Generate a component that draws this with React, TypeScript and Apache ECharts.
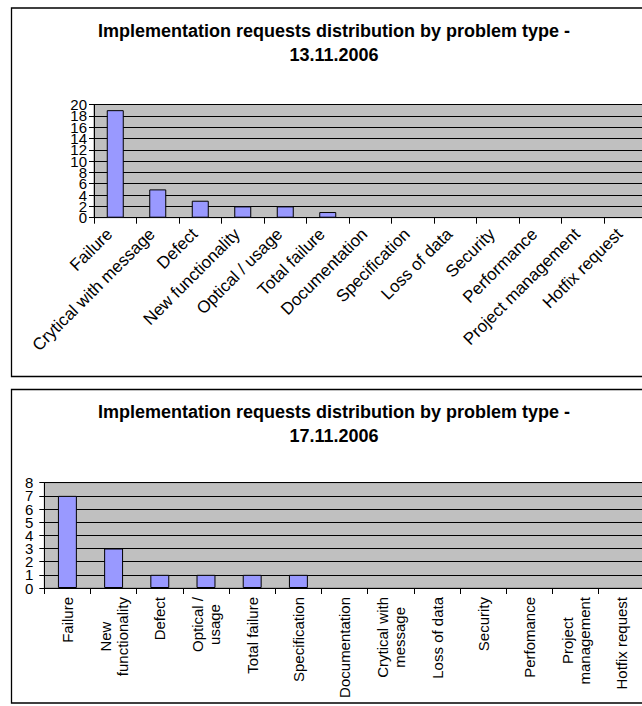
import React, { useEffect, useRef } from "react";
import * as echarts from "echarts";

const title1 = "Implementation requests distribution by problem type -\n13.11.2006";
const title2 = "Implementation requests distribution by problem type -\n17.11.2006";

const categories1 = [
  "Failure",
  "Crytical with message",
  "Defect",
  "New functionality",
  "Optical / usage",
  "Total failure",
  "Documentation",
  "Specification",
  "Loss of data",
  "Security",
  "Performance",
  "Project management",
  "Hotfix request",
];
const values1 = [19, 5, 3, 2, 2, 1, 0, 0, 0, 0, 0, 0, 0];
const yMax1 = 20;
const yStep1 = 2;

const categories2 = [
  "Failure",
  "New\nfunctionality",
  "Defect",
  "Optical /\nusage",
  "Total failure",
  "Specification",
  "Documentation",
  "Crytical with\nmessage",
  "Loss of data",
  "Security",
  "Perfomance",
  "Project\nmanagement",
  "Hotfix request",
];
const values2 = [7, 3, 1, 1, 1, 1, 0, 0, 0, 0, 0, 0, 0];
const yMax2 = 8;
const yStep2 = 1;

const FONT = "'Liberation Sans', Arial, sans-serif";

function yPair(gridIndex: number, max: number, step: number, fontSize: number, margin: number) {
  const base = {
    type: "value" as const,
    gridIndex,
    position: "left" as const,
    min: 0,
    max,
    interval: step,
  };
  const lbl = (parity: number) => ({
    margin,
    fontSize,
    fontFamily: FONT,
    color: "#000",
    showMinLabel: true,
    showMaxLabel: true,
    hideOverlap: false,
    formatter: (v: number) => (Math.round(v / step) % 2 === parity ? String(v) : ""),
  });
  return [
    {
      ...base,
      axisLine: { show: true, lineStyle: { color: "#000", width: 1 } },
      axisTick: { show: true, length: 5, lineStyle: { color: "#000" } },
      splitLine: { show: true, lineStyle: { color: "#000", width: 1 } },
      axisLabel: lbl((max / step) % 2 === 0 ? 0 : 1),
    },
    {
      ...base,
      axisLine: { show: false },
      axisTick: { show: false },
      splitLine: { show: false },
      axisLabel: lbl((max / step) % 2 === 0 ? 1 : 0),
    },
  ];
}

export default function App() {
  const ref = useRef<HTMLDivElement>(null);
  useEffect(() => {
    if (!ref.current) return;
    const chart = echarts.init(ref.current, undefined, { renderer: "svg" });
    const barStyle = { color: "#9999FF", borderColor: "#000", borderWidth: 1 };
    const gridCommon = {
      show: true,
      backgroundColor: "#C0C0C0",
      borderColor: "#808080",
      borderWidth: 1,
      containLabel: false,
      outerBoundsMode: "none",
    };
    const nz = (arr: number[]) => arr.map((v) => (v === 0 ? null : v));
    chart.setOption({
      animation: false,
      backgroundColor: "#fff",
      textStyle: { fontFamily: FONT },
      graphic: [
        {
          type: "rect",
          shape: { x: 11.5, y: 8, width: 660, height: 368.5 },
          style: { fill: "none", stroke: "#000", lineWidth: 1.3 },
          silent: true,
        },
        {
          type: "rect",
          shape: { x: 11.5, y: 389.5, width: 660, height: 313.5 },
          style: { fill: "none", stroke: "#000", lineWidth: 1.3 },
          silent: true,
        },
        {
          type: "text",
          x: 334,
          y: 43,
          style: {
            text: title1,
            fontFamily: FONT,
            fontWeight: "bold",
            fontSize: 18,
            lineHeight: 24,
            fill: "#000",
            align: "center",
            verticalAlign: "middle",
          },
        },
        {
          type: "text",
          x: 334,
          y: 424,
          style: {
            text: title2,
            fontFamily: FONT,
            fontWeight: "bold",
            fontSize: 18,
            lineHeight: 24,
            fill: "#000",
            align: "center",
            verticalAlign: "middle",
          },
        },
      ],
      grid: [
        { ...gridCommon, left: 94, top: 104.5, width: 552.5, height: 113.2 },
        { ...gridCommon, left: 44.3, top: 482.7, width: 600.6, height: 105.3 },
      ],
      xAxis: [
        {
          type: "category",
          gridIndex: 0,
          data: categories1,
          axisLine: { show: true, lineStyle: { color: "#000" } },
          axisTick: { show: true, length: 6, lineStyle: { color: "#000" } },
          axisLabel: {
            interval: 0,
            rotate: 45,
            margin: 8,
            padding: [0, 8, 0, 0],
            fontSize: 17,
            fontFamily: FONT,
            color: "#000",
          },
        },
        {
          type: "category",
          gridIndex: 1,
          data: categories2,
          axisLine: { show: true, lineStyle: { color: "#000" } },
          axisTick: { show: true, length: 6, lineStyle: { color: "#000" } },
          axisLabel: {
            interval: 0,
            rotate: 90,
            margin: 9,
            fontSize: 15,
            fontFamily: FONT,
            lineHeight: 17,
            color: "#000",
            formatter: (v: string) =>
              v
                .split("\n")
                .map((s) => `{c|${s}}`)
                .join("\n"),
            rich: {
              c: {
                fontSize: 15,
                fontFamily: FONT,
                color: "#000",
                align: "center",
                lineHeight: 17,
              },
            },
          },
        },
      ],
      yAxis: [
        ...yPair(0, yMax1, yStep1, 15, 7),
        ...yPair(1, yMax2, yStep2, 15, 11),
      ],
      series: [
        {
          type: "bar",
          xAxisIndex: 0,
          yAxisIndex: 0,
          data: nz(values1),
          barWidth: "40%",
          itemStyle: barStyle,
        },
        {
          type: "bar",
          xAxisIndex: 1,
          yAxisIndex: 2,
          data: nz(values2),
          barWidth: "41%",
          itemStyle: barStyle,
        },
      ],
    });
    return () => chart.dispose();
  }, []);
  return (
    <div
      ref={ref}
      style={{ position: "fixed", left: 0, top: 0, width: 642, height: 706 }}
    />
  );
}
